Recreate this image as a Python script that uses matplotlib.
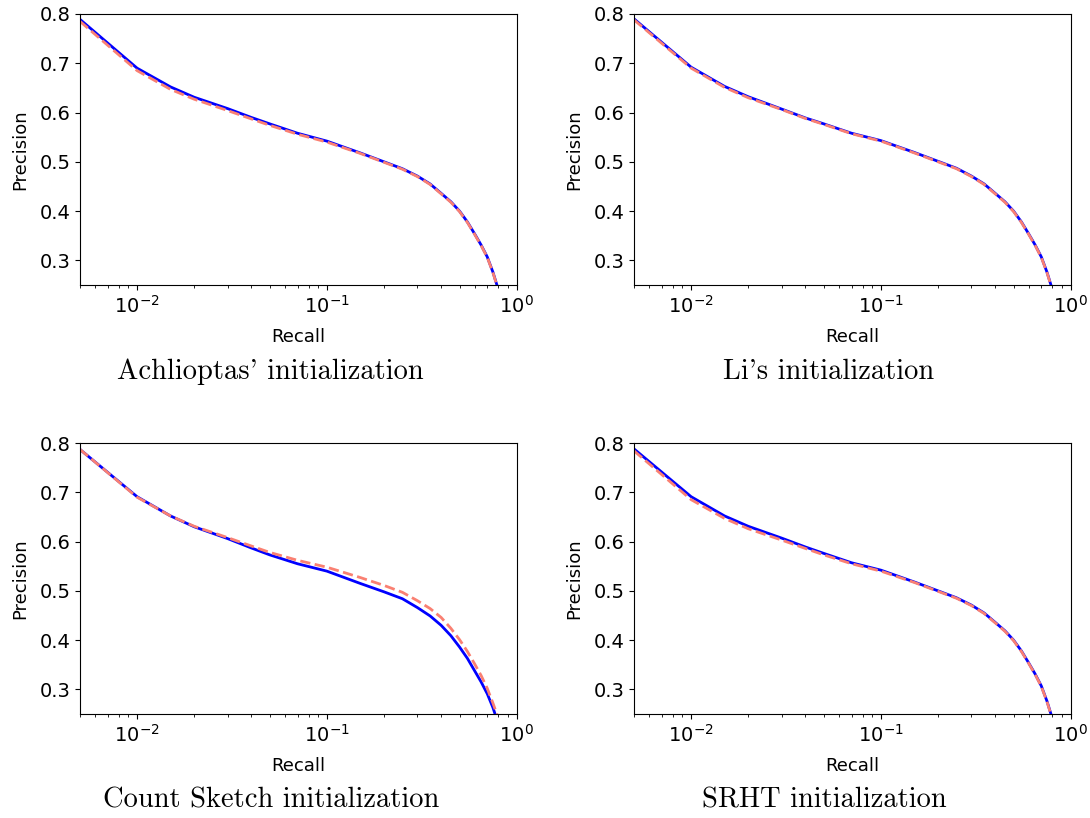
import numpy as np
import matplotlib.pyplot as plt

# recall grid shared by every panel
recall = [0.005, 0.01, 0.015, 0.02, 0.03, 0.04, 0.05, 0.07, 0.1, 0.15,
          0.2, 0.25, 0.3, 0.35, 0.4, 0.45, 0.5, 0.55, 0.6, 0.65, 0.7, 0.75, 0.8]

# precision, solid (blue) and dashed (salmon) curve for each initialization
achlioptas_solid = [0.789, 0.690, 0.652, 0.631, 0.608, 0.590, 0.577, 0.558, 0.542,
                    0.518, 0.500, 0.486, 0.471, 0.455, 0.436, 0.419, 0.400, 0.378,
                    0.354, 0.331, 0.307, 0.276, 0.241]
achlioptas_dash = [0.785, 0.685, 0.647, 0.627, 0.604, 0.587, 0.574, 0.556, 0.540,
                   0.517, 0.499, 0.485, 0.470, 0.454, 0.435, 0.418, 0.399, 0.377,
                   0.353, 0.330, 0.306, 0.275, 0.240]

li_solid = [0.790, 0.692, 0.653, 0.632, 0.607, 0.589, 0.577, 0.558, 0.543,
            0.519, 0.501, 0.487, 0.471, 0.455, 0.436, 0.419, 0.400, 0.378,
            0.354, 0.331, 0.307, 0.276, 0.241]
li_dash = [0.788, 0.690, 0.651, 0.630, 0.606, 0.588, 0.576, 0.557, 0.542,
           0.518, 0.500, 0.486, 0.470, 0.454, 0.435, 0.418, 0.399, 0.377,
           0.353, 0.330, 0.306, 0.275, 0.240]

cs_solid = [0.787, 0.691, 0.652, 0.630, 0.606, 0.587, 0.573, 0.555, 0.540,
            0.515, 0.498, 0.484, 0.466, 0.449, 0.430, 0.409, 0.386, 0.363,
            0.338, 0.315, 0.291, 0.263, 0.230]
cs_dash = [0.787, 0.690, 0.652, 0.631, 0.608, 0.591, 0.578, 0.562, 0.548,
           0.527, 0.511, 0.497, 0.480, 0.464, 0.446, 0.424, 0.401, 0.377,
           0.352, 0.328, 0.302, 0.272, 0.242]

srht_solid = [0.788, 0.691, 0.652, 0.631, 0.607, 0.589, 0.576, 0.557, 0.542,
              0.518, 0.500, 0.486, 0.471, 0.455, 0.436, 0.419, 0.400, 0.378,
              0.354, 0.331, 0.307, 0.276, 0.241]
srht_dash = [0.784, 0.685, 0.647, 0.626, 0.603, 0.586, 0.573, 0.555, 0.540,
             0.517, 0.499, 0.485, 0.470, 0.454, 0.435, 0.418, 0.399, 0.377,
             0.353, 0.330, 0.306, 0.275, 0.240]

captions = ["Achlioptas' initialization", "Li's initialization",
            "Count Sketch initialization", "SRHT initialization"]
solids = [achlioptas_solid, li_solid, cs_solid, srht_solid]
dashes = [achlioptas_dash, li_dash, cs_dash, srht_dash]

fig = plt.figure(figsize=(10.9, 8.18), dpi=100)

# axes rectangles [left, bottom, width, height]
rects = [[0.0734, 0.6516, 0.4006, 0.3313],
         [0.5817, 0.6516, 0.4006, 0.3313],
         [0.0734, 0.1271, 0.4006, 0.3313],
         [0.5817, 0.1271, 0.4006, 0.3313]]
cap_pos = [(0.248, 0.545), (0.760, 0.545), (0.249, 0.021), (0.756, 0.021)]

for i in range(4):
    ax = fig.add_axes(rects[i])
    ax.plot(recall, solids[i], color='b', lw=2)
    ax.plot(recall, dashes[i], color='salmon', lw=2, ls='--')
    ax.set_xscale('log')
    ax.set_xlim(0.005, 1)
    ax.set_ylim(0.25, 0.8)
    ax.set_yticks([0.3, 0.4, 0.5, 0.6, 0.7, 0.8])
    ax.tick_params(labelsize=14)
    ax.set_xlabel('Recall', fontsize=13, labelpad=8)
    ax.set_ylabel('Precision', fontsize=13, labelpad=7)
    fig.text(cap_pos[i][0], cap_pos[i][1], captions[i], family='cmr10',
             fontsize=20.5, ha='center', va='center')

fig.savefig('out.png', dpi=100)
